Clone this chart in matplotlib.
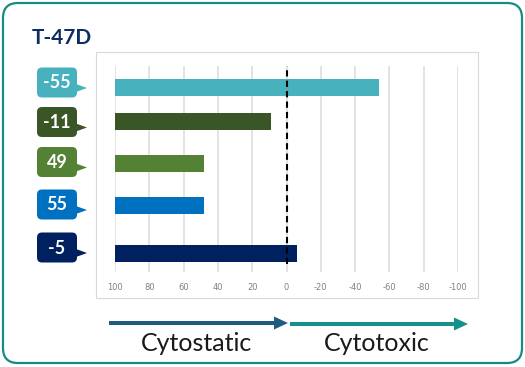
import matplotlib
matplotlib.use("Agg")
import matplotlib.pyplot as plt
from matplotlib.patches import FancyBboxPatch, Rectangle, Polygon, FancyArrow

plt.rcParams['axes.unicode_minus'] = False

# data
cell_line = "T-47D"
scores = [-55, -11, 49, 55, -5]          # numbers shown in the callouts
bar_ends = [-54, 9, 48, 48, -6]          # where each bar stops on the axis
bar_colors = ['#47b1be', '#3b5626', '#548235', '#0070c0', '#002060']
xticks = [100, 80, 60, 40, 20, 0, -20, -40, -60, -80, -100]

# layout (pixels)
row_y = [87.5, 121.5, 163, 205.5, 253]
box_y = [82.5, 122, 162, 204.5, 247.5]
W, H = 525, 367

fig = plt.figure(figsize=(W / 100, H / 100), dpi=100)

bg = fig.add_axes([0, 0, 1, 1], zorder=0)
bg.set_xlim(0, W)
bg.set_ylim(H, 0)
bg.axis('off')

# outer card
bg.add_patch(FancyBboxPatch((3, 3), 519, 360, boxstyle="round,pad=0,rounding_size=15",
                            fill=False, ec='#178a84', lw=1.6))
# chart frame
bg.add_patch(Rectangle((96, 52), 382, 246, fill=False, ec='#d9d9d9', lw=0.8))

bg.text(32, 38, cell_line, ha='left', va='center', fontsize=15, fontweight='bold',
        color='#0e2d62', family='Lato')

# callouts
for s, by, c in zip(scores, box_y, bar_colors):
    bg.add_patch(FancyBboxPatch((37, by - 15), 40, 30, boxstyle="round,pad=0,rounding_size=5",
                                fc=c, ec='none'))
    bg.add_patch(Polygon([(76, by + 1.5), (87, by + 5.5), (76, by + 9.5)], fc=c, ec='none'))
    bg.text(57, by + 0.5, str(s), ha='center', va='center', color='white',
            fontsize=13, fontweight='bold', family='Lato')

# arrows + labels
bg.add_patch(FancyArrow(109, 323, 179, 0, width=4, head_width=13, head_length=14,
                        length_includes_head=True, color='#1d5c80', lw=0))
bg.add_patch(FancyArrow(290, 324, 178, 0, width=4, head_width=13, head_length=14,
                        length_includes_head=True, color='#14918b', lw=0))
bg.text(196, 351, 'Cytostatic', ha='center', va='baseline', fontsize=18,
        color='#1a1a1a', family='Lato')
bg.text(377, 351, 'Cytotoxic', ha='center', va='baseline', fontsize=18,
        color='#1a1a1a', family='Lato')

# bars
ax = fig.add_axes([115 / W, 1 - 272 / H, 343 / W, 206 / H], zorder=1)
ax.set_facecolor('none')
ax.barh(row_y, [e - 100 for e in bar_ends], left=100, height=17, color=bar_colors)
ax.set_xlim(100, -100)
ax.set_ylim(272, 66)
ax.set_xticks(xticks)
ax.set_yticks([])
ax.grid(axis='x', color='#e0e0e0', lw=1.3)
ax.set_axisbelow(True)
ax.axvline(0, ymin=0.04, ymax=1.0, color='black', ls=(0, (3, 2)), lw=1.5)
for sp in ax.spines.values():
    sp.set_visible(False)
ax.tick_params(axis='x', length=0, pad=8, labelsize=6, labelcolor='#808080')

fig.savefig('out.png', dpi=100)
